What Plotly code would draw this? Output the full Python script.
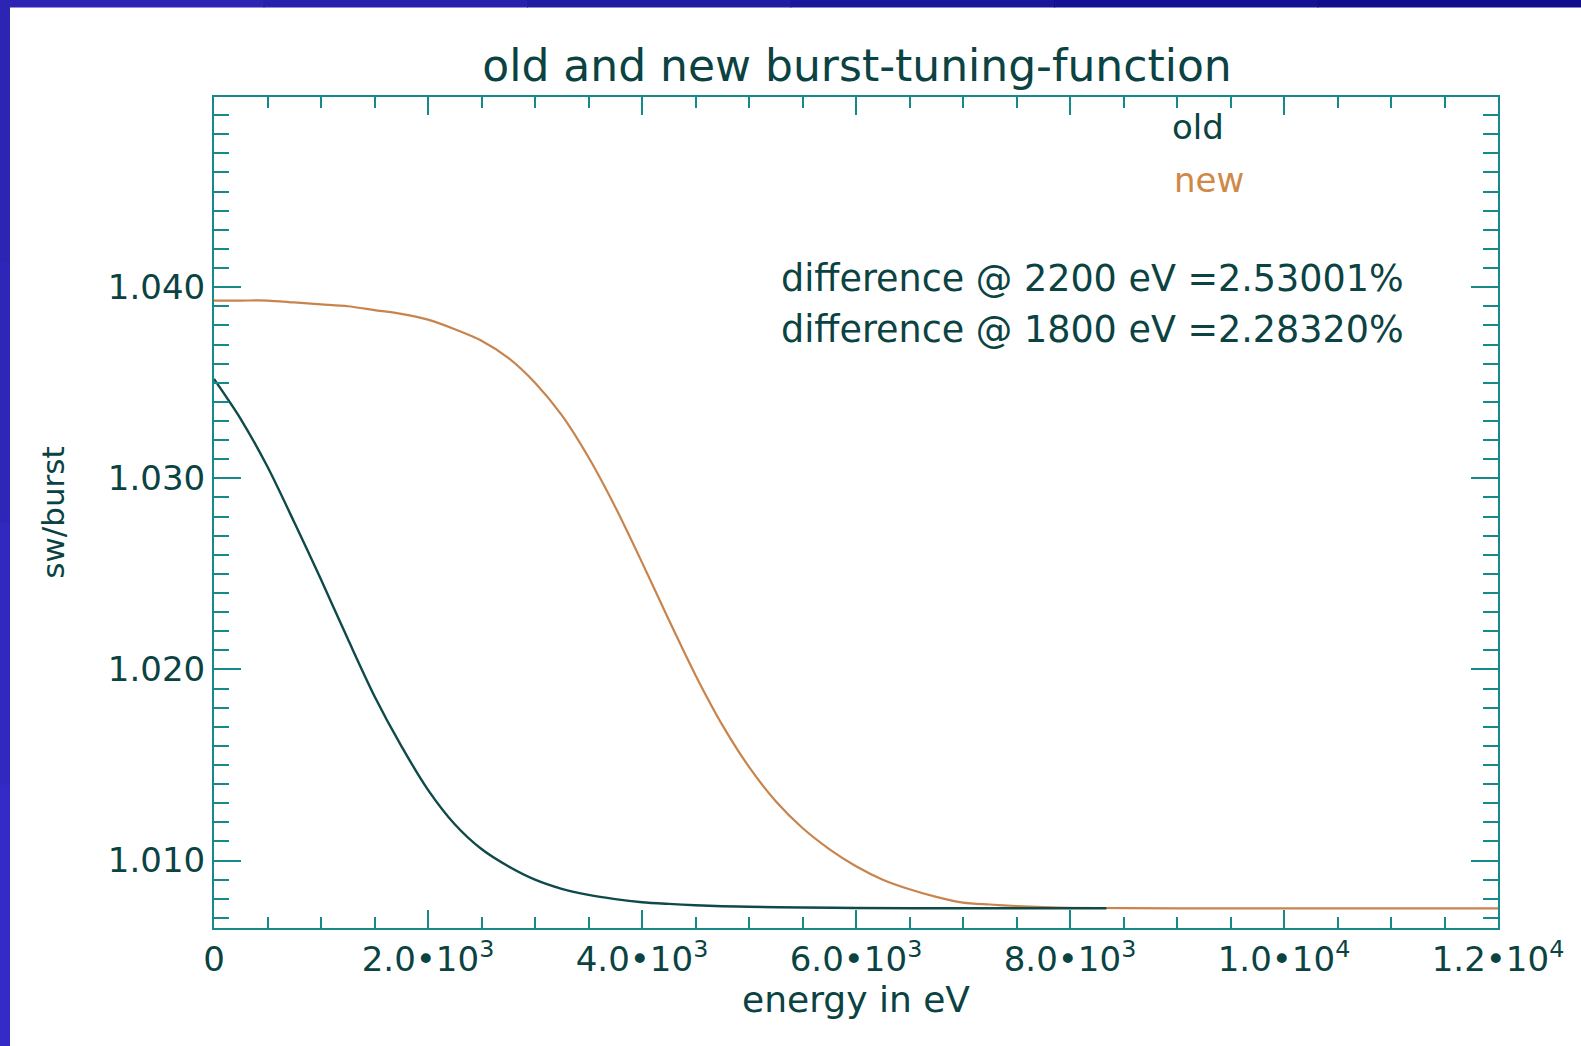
import plotly.graph_objects as go

# ---- data ----
energy_old = [0, 250, 500, 750, 1000, 1250, 1500, 1750, 2000, 2250, 2500, 2750, 3000,
              3250, 3500, 3750, 4000, 4250, 4500, 4750, 5000, 5500, 6000, 7000, 8340]
sw_old = [1.0352, 1.0331, 1.0306, 1.0277, 1.0247, 1.0216, 1.0186, 1.0160, 1.0137, 1.0119,
          1.0106, 1.0097, 1.0090, 1.00852, 1.0082, 1.00798, 1.00782, 1.00773, 1.00766,
          1.00761, 1.00758, 1.00754, 1.00752, 1.0075, 1.0075]

energy_new = [0, 250, 500, 750, 1000, 1250, 1500, 1750, 2000, 2250, 2500, 2750, 3000, 3250,
              3500, 3750, 4000, 4250, 4500, 4750, 5000, 5250, 5500, 5750, 6000, 6250, 6500,
              6750, 7000, 7250, 7500, 7750, 8000, 8500, 9000, 12000]
sw_new = [1.0393, 1.0393, 1.0393, 1.0392, 1.0391, 1.0390, 1.0388, 1.0386, 1.0383, 1.0378,
          1.0372, 1.0363, 1.0350, 1.0333, 1.0311, 1.0285, 1.0256, 1.0226, 1.0197, 1.0171,
          1.0149, 1.0131, 1.0117, 1.0106, 1.0097, 1.0090, 1.0085, 1.0081, 1.0078, 1.00770,
          1.00762, 1.00756, 1.00753, 1.00751, 1.0075, 1.0075]

x_tickvals = [0, 2000, 4000, 6000, 8000, 10000, 12000]
x_ticktext = ["0", "2.0\u202210<sup>3</sup>", "4.0\u202210<sup>3</sup>", "6.0\u202210<sup>3</sup>",
              "8.0\u202210<sup>3</sup>", "1.0\u202210<sup>4</sup>", "1.2\u202210<sup>4</sup>"]
y_tickvals = [1.010, 1.020, 1.030, 1.040]
y_ticktext = ["1.010", "1.020", "1.030", "1.040"]

title_text = "old and new burst-tuning-function"
x_title = "energy in eV"
y_title = "sw/burst"
series_names = ["old", "new"]
notes = ["difference @ 2200 eV =2.53001%", "difference @ 1800 eV =2.28320%"]

# ---- styles ----
W, H = 1581, 1046
L, R, T, B = 214, 1498, 97, 928
TXT = "#0b4242"
AXC = "#168a8a"
OLD_C = "#0f4a4a"
NEW_C = "#c8844c"
NEW_TXT = "#d08848"
FONT = "DejaVu Sans"


def px(xp):
    return (xp - L) / (R - L)


def py(yp):
    return (B - yp) / (B - T)


fig = go.Figure()
fig.add_trace(go.Scatter(x=energy_new, y=sw_new, mode="lines", name=series_names[1],
                         line=dict(color=NEW_C, width=2.2, shape="spline", smoothing=0.8)))
fig.add_trace(go.Scatter(x=energy_old, y=sw_old, mode="lines", name=series_names[0],
                         line=dict(color=OLD_C, width=2.4, shape="spline", smoothing=0.8)))

axis_common = dict(showline=True, linecolor=AXC, linewidth=2, mirror="ticks",
                   ticks="inside", tickcolor=AXC, tickwidth=2, showgrid=False,
                   zeroline=False, tickfont=dict(family=FONT, size=34, color=TXT))

fig.update_xaxes(range=[0, 12000], tickmode="array", tickvals=x_tickvals, ticktext=x_ticktext,
                 ticklen=18,
                 minor=dict(tickmode="linear", tick0=0, dtick=500, ticks="inside", ticklen=11,
                            tickcolor=AXC, tickwidth=2),
                 title=dict(text=x_title, font=dict(family=FONT, size=36, color=TXT), standoff=6),
                 **axis_common)
fig.update_yaxes(range=[1.00647, 1.04995], tickmode="array", tickvals=y_tickvals,
                 ticktext=y_ticktext, ticklen=27,
                 minor=dict(tickmode="linear", tick0=1.0, dtick=0.001, ticks="inside", ticklen=15,
                            tickcolor=AXC, tickwidth=2),
                 title=dict(text=y_title, font=dict(family=FONT, size=31, color=TXT), standoff=34),
                 **axis_common)

annotations = [
    dict(text=series_names[0], x=px(1170), y=py(127), xanchor="left", yanchor="middle",
         font=dict(family=FONT, size=34, color=TXT)),
    dict(text=series_names[1], x=px(1172), y=py(180), xanchor="left", yanchor="middle",
         font=dict(family=FONT, size=34, color=NEW_TXT)),
    dict(text=notes[0], x=px(779), y=py(278), xanchor="left", yanchor="middle",
         font=dict(family=FONT, size=36.5, color=TXT)),
    dict(text=notes[1], x=px(779), y=py(329), xanchor="left", yanchor="middle",
         font=dict(family=FONT, size=36.5, color=TXT)),
]
for a in annotations:
    a.update(xref="paper", yref="paper", showarrow=False)

# blue slide frame (top and left strips)
shapes = []
top_cols = ["#2c24b2", "#2620ac", "#201ba4", "#1a169c", "#141294", "#100e8c"]
seg = W / len(top_cols)
for i, c in enumerate(top_cols):
    shapes.append(dict(type="rect", xref="paper", yref="paper",
                       x0=px(i * seg), x1=px((i + 1) * seg + 1), y0=py(7.5), y1=py(0),
                       fillcolor=c, line=dict(width=0), layer="below"))
left_cols = ["#2c24b2", "#2e26b8", "#3128c0", "#332ac8"]
seg = H / len(left_cols)
for i, c in enumerate(left_cols):
    shapes.append(dict(type="rect", xref="paper", yref="paper",
                       x0=px(0), x1=px(10), y0=py((i + 1) * seg + 1), y1=py(i * seg),
                       fillcolor=c, line=dict(width=0), layer="below"))

fig.update_layout(
    width=W, height=H,
    margin=dict(l=L, r=W - R, t=T, b=H - B, autoexpand=False),
    paper_bgcolor="white", plot_bgcolor="white",
    showlegend=False,
    title=dict(text=title_text, x=px(857), xanchor="center", xref="paper",
               y=1 - 66 / H, yanchor="middle", yref="container",
               font=dict(family=FONT, size=44, color=TXT)),
    annotations=annotations,
    shapes=shapes,
)

fig.write_html("out.html")
